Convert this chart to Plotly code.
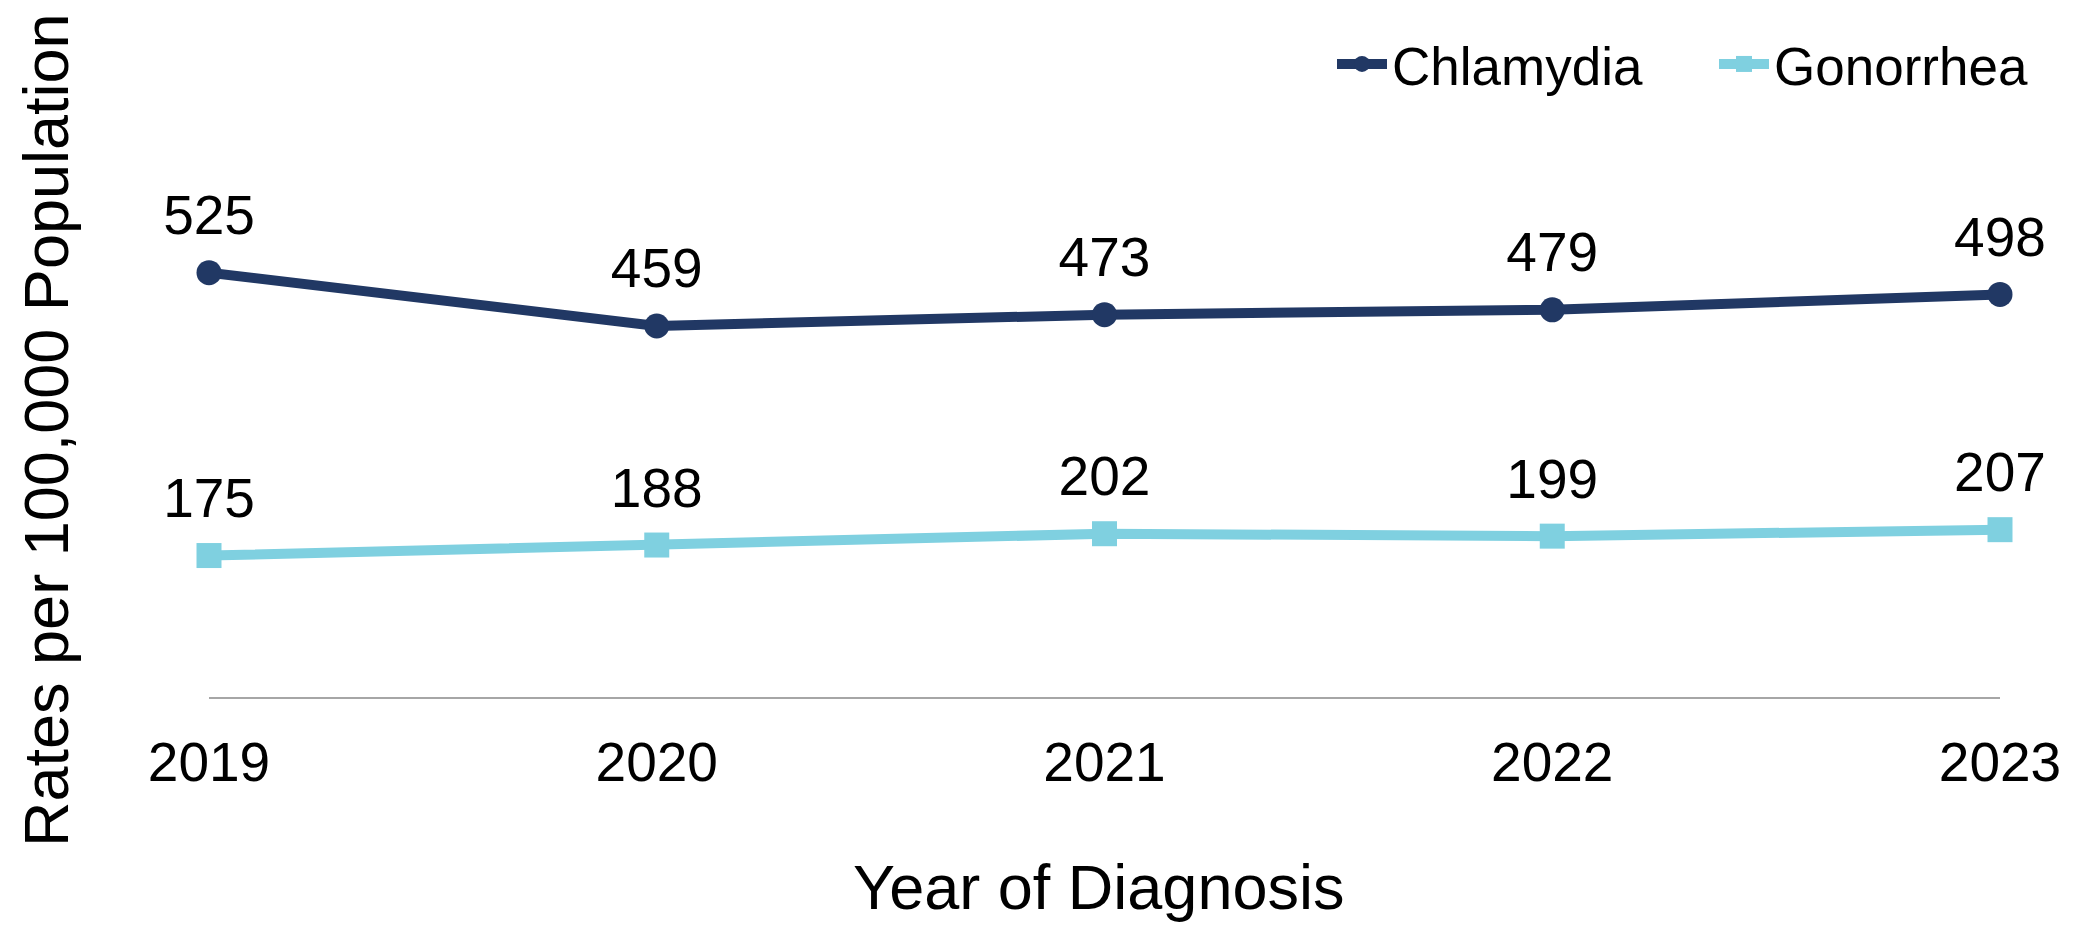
import plotly.graph_objects as go

years = [2019, 2020, 2021, 2022, 2023]
chlamydia = [525, 459, 473, 479, 498]
gonorrhea = [175, 188, 202, 199, 207]
tick_labels = ["2019", "2020", "2021", "2022", "2023"]

FONT = "Liberation Sans, Arial, sans-serif"
NAVY = "#213864"
LIGHT = "#7FD0E0"
LBL = 55

fig = go.Figure()
for name, vals, color, sym in [("Chlamydia", chlamydia, NAVY, "circle"),
                               ("Gonorrhea", gonorrhea, LIGHT, "square")]:
    fig.add_trace(go.Scatter(
        x=years, y=vals, name=name, mode="lines+markers",
        line=dict(color=color, width=10),
        marker=dict(symbol=sym, size=25, color=color),
        cliponaxis=False,
    ))
for vals in [chlamydia, gonorrhea]:
    fig.add_trace(go.Scatter(
        x=years, y=vals, mode="markers+text", showlegend=False, hoverinfo="skip",
        marker=dict(size=38, color="rgba(0,0,0,0)"),
        text=[str(v) for v in vals], textposition="top center",
        textfont=dict(size=LBL, color="black", family=FONT),
        cliponaxis=False,
    ))

# page body has an 8px default margin; figure sized to fit the window
fig.update_layout(
    width=2066, height=917,
    margin=dict(l=201, r=74, t=204, b=228, autoexpand=False),
    paper_bgcolor="white", plot_bgcolor="white",
    font=dict(family=FONT, size=LBL, color="black"),
    showlegend=True,
    legend=dict(orientation="h", x=(1332 - 209) / 1791, xanchor="left",
                y=(697 - 64) / 485, yanchor="middle",
                font=dict(size=53, family=FONT), itemwidth=50,
                entrywidth=317, bgcolor="rgba(0,0,0,0)"),
)
fig.update_xaxes(
    range=[years[0], years[-1]], tickvals=years, ticktext=tick_labels,
    showgrid=False, zeroline=False, showline=True, linecolor="#A6A6A6", linewidth=2,
    ticks="", tickfont=dict(size=LBL, family=FONT), ticklabelstandoff=16,
)
fig.update_yaxes(
    range=[0, 600], showgrid=False, zeroline=False, showline=False,
    showticklabels=False, ticks="",
)
fig.add_annotation(
    text="Rates per 100,000 Population", textangle=-90,
    xref="paper", yref="paper", x=(46 - 209) / 1791, y=(697 - 430) / 485,
    xanchor="center", yanchor="middle", showarrow=False,
    font=dict(size=63, family=FONT, color="black"),
)
fig.add_annotation(
    text="Year of Diagnosis",
    xref="paper", yref="paper", x=(1098 - 209) / 1791, y=(697 - 887) / 485,
    xanchor="center", yanchor="middle", showarrow=False,
    font=dict(size=63, family=FONT, color="black"),
)

fig.write_html("out.html")
